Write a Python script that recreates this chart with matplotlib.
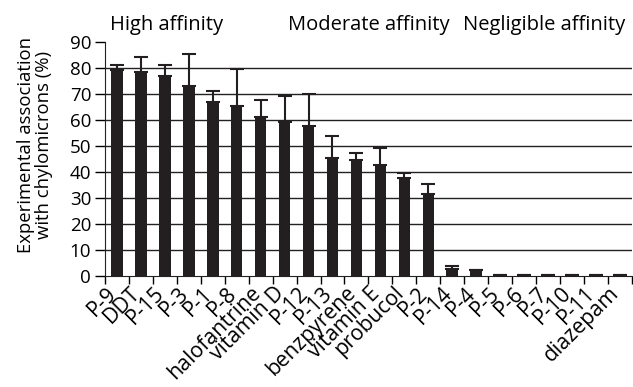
import matplotlib
matplotlib.use("Agg")
import matplotlib.pyplot as plt
import matplotlib.transforms as mtransforms
import numpy as np

plt.rcParams['font.family'] = ['Open Sans', 'DejaVu Sans']

categories = ["P-9", "DDT", "P-15", "P-3", "P-1", "P-8", "halofantrine", "vitamin D",
              "P-12", "P-13", "benzpyrene", "vitamin E", "probucol", "P-2", "P-14",
              "P-4", "P-5", "P-6", "P-7", "P-10", "P-11", "diazepam"]
values = [79.2, 78.5, 77.0, 72.9, 66.7, 65.3, 61.2, 59.0, 57.8, 45.2, 44.6, 42.5,
          37.5, 31.4, 2.4, 2.0, 0.15, 0.15, 0.15, 0.15, 0.15, 0.15]
errors = [1.9, 5.9, 4.1, 12.4, 4.5, 14.2, 6.6, 10.3, 12.0, 8.7, 2.5, 6.7,
          2.0, 4.0, 1.2, 0.3, 0.1, 0.1, 0.1, 0.1, 0.1, 0.1]
yticks = [0, 10, 20, 30, 40, 50, 60, 70, 80, 90]
gridlines = [10, 20, 30, 40, 50, 60, 70, 80]
groups = ["High affinity", "Moderate affinity", "Negligible affinity"]

fig = plt.figure(figsize=(6.33, 3.87), dpi=100)
ax = fig.add_axes([0.166, 0.288, 0.832, 0.6035])

x = np.arange(len(categories))
for g in gridlines:
    ax.axhline(g, color='#222222', lw=1.0, zorder=1)

ax.bar(x, values, width=0.48, color='#231f20', zorder=3)
ax.errorbar(x, values, yerr=[np.zeros(len(errors)), errors], fmt='none',
            ecolor='#231f20', elinewidth=1.5, capsize=5, capthick=1.5, zorder=4)

ax.set_xlim(-0.5, len(categories) - 0.5)
ax.set_ylim(0, 90)
ax.set_yticks(yticks)
ax.tick_params(axis='y', labelsize=13.5, length=7, width=1, direction='out', pad=3)

ax.set_xticks(np.arange(len(categories) + 1) - 0.5)
ax.set_xticklabels([])
ax.tick_params(axis='x', which='major', length=6, width=1, direction='out')
ax.set_xticks(x, categories, minor=True)
ax.tick_params(axis='x', which='minor', length=0, pad=3, labelsize=15.3)
shift = mtransforms.ScaledTranslation(-11 / 100, -3 / 100, fig.dpi_scale_trans)
for lbl in ax.get_xticklabels(minor=True):
    lbl.set_rotation(45)
    lbl.set_ha('right')
    lbl.set_va('top')
    lbl.set_rotation_mode('anchor')
    lbl.set_transform(lbl.get_transform() + shift)

for s in ['top', 'right']:
    ax.spines[s].set_visible(False)
ax.spines['left'].set_color('#222222')
ax.spines['bottom'].set_color('#222222')

ax.set_ylabel("Experimental association\nwith chylomicrons (%)", fontsize=13.3, linespacing=1.05)
ax.yaxis.set_label_coords(-0.098, 0.56)

fig.text(110/633, 1 - 25/387, groups[0], fontsize=14.5, va='center', ha='left')
fig.text(288/633, 1 - 25/387, groups[1], fontsize=14.5, va='center', ha='left')
fig.text(463/633, 1 - 25/387, groups[2], fontsize=14.5, va='center', ha='left')

fig.savefig("out.png", dpi=100)
